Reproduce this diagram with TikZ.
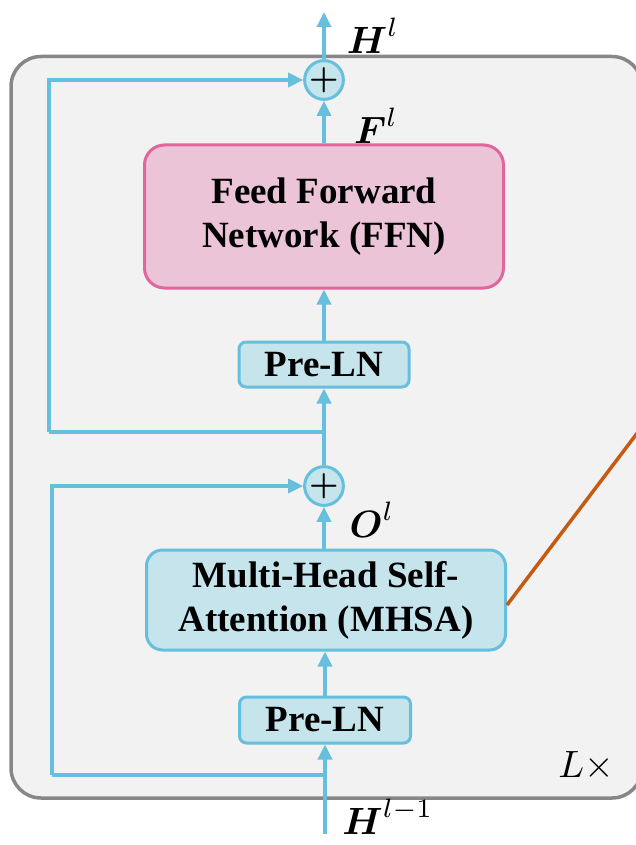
\documentclass[tikz,border=0pt]{standalone}
\usepackage{amsmath,amsbsy}
\usepackage{fontspec}
\setmainfont{Liberation Serif}
\usetikzlibrary{arrows.meta}
\definecolor{cyanline}{HTML}{66BFDD}
\definecolor{cyanfill}{HTML}{C5E4EC}
\definecolor{pinkline}{HTML}{E0669E}
\definecolor{pinkfill}{HTML}{EBC4D7}
\definecolor{grayline}{HTML}{878787}
\definecolor{grayfill}{HTML}{F2F2F2}
\definecolor{orangeline}{HTML}{C55A11}
\newcommand{\biglab}[1]{\scalebox{3.8}{$#1$}}
\tikzset{
  blockbox/.style={draw=cyanline, fill=cyanfill, line width=3pt, rounded corners=16pt,
    align=center, font=\fontsize{37}{44}\selectfont\bfseries, inner sep=0pt},
  lnbox/.style={draw=cyanline, fill=cyanfill, line width=3pt, rounded corners=7pt,
    font=\fontsize{37}{44}\selectfont\bfseries, inner sep=0pt, minimum width=170pt, minimum height=45pt},
  ffnbox/.style={draw=pinkline, fill=pinkfill, line width=3pt, rounded corners=20pt,
    align=center, font=\fontsize{37}{44}\selectfont\bfseries, inner sep=0pt},
  addnode/.style={circle, draw=cyanline, fill=cyanfill, line width=3pt, minimum size=36pt, inner sep=0pt},
  conn/.style={draw=cyanline, line width=3.5pt, -{Triangle[length=15pt,width=14pt]}},
  plainconn/.style={draw=cyanline, line width=3.5pt},
  mlabel/.style={inner sep=0pt}
}
\begin{document}
\begin{tikzpicture}[x=1pt,y=-1pt]
\useasboundingbox (0,0) rectangle (636,845);
\clip (0,0) rectangle (636,845);
% outer block
\draw[draw=grayline, fill=grayfill, line width=3.5pt, rounded corners=30pt] (11,56.5) rectangle (642,798);
% nodes
\node[addnode] (plusA) at (324,80) {\scalebox{3.3}{$\boldsymbol{+}$}};
\node[ffnbox, minimum width=359pt, minimum height=143pt] (ffn) at (324,216.5) {Feed Forward\\Network (FFN)};
\node[lnbox] (lnA) at (324,364.5) {Pre-LN};
\node[addnode] (plusB) at (324,486) {\scalebox{3.3}{$\boldsymbol{+}$}};
\node[blockbox, minimum width=359pt, minimum height=100pt] (mhsa) at (326,600) {Multi-Head Self-\\Attention (MHSA)};
\node[lnbox, minimum width=171pt, minimum height=46pt] (lnB) at (325,720) {Pre-LN};
% coordinates
\coordinate (inp) at (325,834);
\coordinate (brB) at (325,775);
\coordinate (brA) at (324,432);
\coordinate (outp) at (324,12);
\coordinate (cornB) at (52,775);
\coordinate (cornA) at (49,432);
% labels
\node[mlabel] (hout) at (373,36) {\biglab{\boldsymbol{H}^{l}}};
\node[mlabel] (flab) at (376,126) {\biglab{\boldsymbol{F}^{l}}};
\node[mlabel] (olab) at (372,520) {\biglab{\boldsymbol{O}^{l}}};
\node[mlabel] (hin) at (388,817) {\biglab{\boldsymbol{H}^{l-1}}};
\node[mlabel] (lx) at (586,766) {\biglab{L\times}};
% connectors
\draw[conn] (inp) -- (lnB.south);
\draw[plainconn] (brB) -- (cornB);
\draw[conn] (cornB) |- (plusB.west);
\draw[conn] (lnB.north) -- (lnB.north |- mhsa.south);
\draw[conn] (mhsa.north -| plusB.south) -- (plusB.south);
\draw[conn] (plusB.north) -- (lnA.south);
\draw[plainconn] (brA) -- (cornA);
\draw[conn] (cornA) |- (plusA.west);
\draw[conn] (lnA.north) -- (ffn.south);
\draw[conn] (ffn.north) -- (plusA.south);
\draw[conn] (plusA.north) -- (outp);
% orange line
\coordinate (oend) at (660,403);
\draw[draw=orangeline, line width=3.5pt] (mhsa.east |- 0,605) -- (oend);
\end{tikzpicture}
\end{document}
